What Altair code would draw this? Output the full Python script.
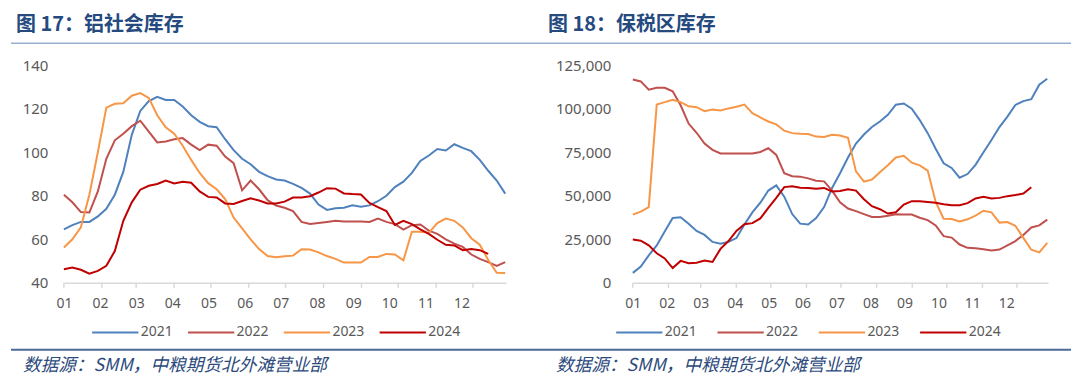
import json
import pandas as pd
import altair as alt

# ---------------- data ----------------
years = ["2021", "2022", "2023", "2024"]
month_labels = ["01", "02", "03", "04", "05", "06", "07", "08", "09", "10", "11", "12"]
month_start_days = [0, 31, 59, 90, 120, 151, 181, 212, 243, 273, 304, 334]

# 图17 铝社会库存 (万吨), weekly, week 0..52
soc_2021 = [64.6, 66.5, 68, 68, 70.5, 74, 80.5, 91, 108, 119,
            123.5, 125.5, 124, 124, 121, 117, 114, 112, 111.5, 106,
            101, 97, 94.5, 91, 89, 87.5, 87, 85.5, 83.6, 81,
            76, 73.5, 74.3, 74.5, 75.6, 75, 75.6, 77.5, 80, 84,
            86.5, 90.5, 96, 98.5, 101.5, 100.8, 103.7, 102, 100.5, 96.5,
            91.5, 87, 81]
soc_2022 = [80.5, 77, 72.5, 72.3, 82, 97, 105.5, 108.5, 112, 114.5,
            109.5, 104.5, 105, 106, 106.5, 103.5, 101, 103.5, 103, 98,
            95, 82.5, 87, 83, 78, 75.5, 74.5, 73, 68, 67,
            67.5, 68, 68.5, 68.2, 68.2, 68.2, 68, 69.5, 68, 67,
            64.5, 66.5, 66.8, 64, 62.5, 60, 58, 56.5, 53, 51,
            49.5, 47.8, 49.5]
soc_2023 = [56.2, 60, 65.5, 80.5, 100, 120.5, 122.3, 122.5, 126, 127.2,
            125, 117, 111.5, 108.5, 103, 96.5, 90.5, 85.8, 83, 78.5,
            70, 65, 60, 55.5, 52.3, 51.8, 52.2, 52.5, 55.4, 55.3,
            54, 52.3, 51, 49.3, 49.3, 49.3, 51.9, 51.9, 53.3, 53,
            50.3, 63.5, 63.5, 63, 67.5, 69.5, 68.5, 65.5, 60.5, 57.5,
            50.5, 44.6, 44.5]
soc_2024 = [46.2, 47, 46, 44.2, 45.5, 47.8, 54.6, 68.5, 77, 82.8,
            84.6, 85.4, 87, 85.7, 86.4, 86, 82, 79.5, 79.2, 76.5,
            76.2, 77.6, 78.8, 77.8, 76.5, 76.5, 77.3, 79.2, 79.2, 79.8,
            81.5, 83.5, 83.3, 81.1, 80.8, 80.6, 76.7, 74.8, 73, 66.6,
            68.5, 67, 64.6, 62.5, 59.8, 57.5, 57.2, 55, 55.5, 55,
            53.3]

# 图18 保税区库存 (吨), weekly, week 0..52
bond_2021 = [5700, 9300, 15800, 21500, 29500, 37300, 37700, 34000, 29800, 27500,
             23500, 22400, 23500, 25700, 33500, 40500, 46000, 53000, 56000, 49500,
             39500, 34000, 33500, 37200, 43500, 54500, 63000, 72000, 80000, 85200,
             89500, 92700, 96500, 102300, 103000, 100000, 93500, 86000, 77000, 68700,
             66000, 60400, 62500, 67800, 75000, 82000, 89500, 95500, 102200, 104400,
             105500, 113800, 117200]
bond_2022 = [116800, 115700, 111000, 112000, 112000, 110000, 102000, 91500, 86200, 80000,
             76400, 74300, 74300, 74300, 74300, 74300, 75200, 77300, 73500, 63000,
             61200, 61000, 60000, 58600, 58300, 53000, 46300, 42700, 41200, 39500,
             37800, 37800, 38500, 39400, 39300, 39200, 37400, 36000, 33000, 26800,
             26000, 22000, 20100, 19800, 19300, 18600, 19100, 21500, 24000, 27500,
             31800, 33000, 36300]
bond_2023 = [39200, 40900, 43500, 102400, 103800, 105200, 103800, 101400, 100900, 98600,
             99500, 99000, 100200, 101200, 102400, 97500, 95000, 92700, 91000, 87400,
             86000, 85600, 85500, 84000, 83800, 85000, 84600, 83300, 64000, 58200,
             59300, 63500, 67500, 72000, 73000, 69000, 67500, 64500, 46500, 36800,
             36700, 35300, 36500, 38600, 41400, 40500, 34600, 34900, 32800, 25800,
             19000, 17500, 23000]
bond_2024 = [24900, 24200, 21500, 17000, 14000, 8500, 12600, 11300, 11500, 12800,
             12000, 19500, 24000, 29800, 33700, 34300, 37000, 43000, 48800, 55000,
             55500, 54600, 54500, 54000, 54500, 52500, 52700, 53800, 53000, 48000,
             44000, 42300, 39800, 40500, 45000, 46900, 46900, 46400, 46000, 45200,
             44600, 44600, 45800, 48500, 49500, 48500, 48800, 49800, 50400, 51300,
             54900]

title_left = "图 17：铝社会库存"
title_right = "图 18：保税区库存"
source_text = "数据源：SMM，中粮期货北外滩营业部"

# ---------------- styling ----------------
colors = ["#4F81BD", "#C0504D", "#F79646", "#C00000"]
widths = [2, 2, 2, 3.5]
DAYS_PER_WEEK_STEP = 6.93
LABEL_STEP = 4.26
X_MAX = 52.1
PLOT_H = 218
TITLE_COLOR = "#244A80"
TOPLINE_COLOR = "#9AAFCF"
BOTLINE_COLOR = "#4B6A98"
SRC_COLOR = "#2C4A7C"
AXIS_GRAY = "#D9D9D9"
LABEL_GRAY = "#595959"
CJK = "Noto Sans CJK SC"


def long_df(series):
    rows = []
    for yr, vals in zip(years, series):
        for i, v in enumerate(vals):
            rows.append({"w": i, "v": v, "year": yr})
    return pd.DataFrame(rows)


tick_df = pd.DataFrame({"t": [d / DAYS_PER_WEEK_STEP for d in month_start_days]})
label_pos = [k * LABEL_STEP for k in range(len(month_labels))]
label_expr = (json.dumps(month_labels) +
              "[round(datum.value / " + str(LABEL_STEP) + ")]")


def text_layer(txt, x, y, size, color, weight="normal", style="normal"):
    return alt.Chart(pd.DataFrame({"t": [txt]})).mark_text(
        align="left", baseline="middle", fontSize=size, color=color,
        fontWeight=weight, fontStyle=style, font=CJK
    ).encode(text="t:N", x=alt.value(x), y=alt.value(y))


def hline(x1, x2, y, color, w):
    return alt.Chart(pd.DataFrame({"a": [0]})).mark_rule(
        color=color, strokeWidth=w
    ).encode(x=alt.value(x1), x2=alt.value(x2), y=alt.value(y))


def panel(series, ydomain, yticks, yfmt, width, title, title_x, src_x,
          line_x1, line_x2, ylabel_pad, legend_x, legend_y, col_pad, guard=False):
    x_scale = alt.Scale(domain=[0, X_MAX], nice=False, zero=False)
    x_axis = alt.Axis(values=label_pos, labelExpr=label_expr, ticks=False,
                      grid=False, domainColor=AXIS_GRAY, domainWidth=1.5,
                      labelFontSize=14, labelColor=LABEL_GRAY, labelFont="Noto Sans",
                      labelPadding=14, labelFlush=False, labelOverlap=False, title=None)
    y_axis = alt.Axis(values=yticks, format=yfmt, ticks=False, domain=False,
                      grid=False, labelFontSize=15, labelColor=LABEL_GRAY,
                      labelFont="Noto Sans", labelPadding=ylabel_pad, title=None)
    leg = alt.Legend(orient="none", legendX=legend_x, legendY=legend_y,
                     direction="horizontal", symbolType="stroke", symbolSize=2150,
                     labelFontSize=14, labelColor=LABEL_GRAY, labelFont="Noto Sans",
                     labelOffset=1, columnPadding=col_pad, title=None, padding=0)
    lines = alt.Chart(long_df(series)).mark_line().encode(
        x=alt.X("w:Q", scale=x_scale, axis=x_axis),
        y=alt.Y("v:Q", scale=alt.Scale(domain=ydomain, nice=False, zero=False), axis=y_axis),
        color=alt.Color("year:N", scale=alt.Scale(domain=years, range=colors), legend=leg),
        strokeWidth=alt.StrokeWidth("year:N", scale=alt.Scale(domain=years, range=widths), legend=leg),
    )
    ticks = alt.Chart(tick_df).mark_rule(color=AXIS_GRAY, strokeWidth=1.5).encode(
        x=alt.X("t:Q", scale=x_scale, axis=x_axis),
        y=alt.value(PLOT_H), y2=alt.value(PLOT_H + 5),
    )
    layers = []
    if guard:
        layers.append(hline(line_x1, 0, -56, "#FFFFFF", 1))
    layers += [
        hline(line_x1, line_x2, -22, TOPLINE_COLOR, 1.5),
        hline(line_x1, line_x2, 285, BOTLINE_COLOR, 2),
        text_layer(title, title_x, -40, 20, TITLE_COLOR, weight="bold"),
        text_layer(source_text, src_x, 301, 17.7, SRC_COLOR, style="italic"),
        ticks,
        lines,
    ]
    return alt.layer(*layers).properties(width=width, height=PLOT_H)


left = panel([soc_2021, soc_2022, soc_2023, soc_2024], [40, 140],
             [40, 60, 80, 100, 120, 140], "d", 443, title_left,
             title_x=-48, src_x=-41, line_x1=-53, line_x2=477,
             ylabel_pad=16, legend_x=27, legend_y=243, col_pad=10, guard=True)
right = panel([bond_2021, bond_2022, bond_2023, bond_2024], [0, 125000],
              [0, 25000, 50000, 75000, 100000, 125000], ",.0f", 416, title_right,
              title_x=-85, src_x=-77, line_x1=-93, line_x2=439,
              ylabel_pad=22, legend_x=-18, legend_y=243, col_pad=15.5)

chart = alt.hconcat(left, right, spacing=127).properties(
    bounds="flush",
    padding={"left": 2, "top": 0, "right": 0, "bottom": 0},
).resolve_scale(
    x="independent", y="independent", color="independent", strokeWidth="independent"
).resolve_legend(
    color="independent", strokeWidth="independent"
).configure_view(stroke=None)

chart.save("out.html", embed_options={"renderer": "svg", "actions": False})
